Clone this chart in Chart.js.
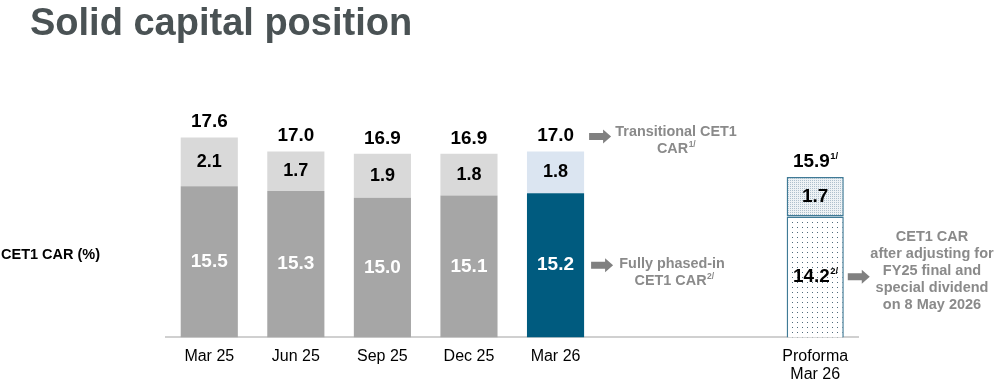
<!DOCTYPE html>
<html>
<head>
<meta charset="utf-8">
<script src="https://cdn.jsdelivr.net/npm/chart.js@4.4.1/dist/chart.umd.min.js"></script>
<style>
  html, body { margin:0; padding:0; background:#ffffff; }
  #wrap { position:relative; width:1000px; height:386px; overflow:hidden; font-family:"Liberation Sans", Arial, sans-serif; }
  #title { position:absolute; left:30px; top:3px; font-size:38px; line-height:1; font-weight:bold; color:#4a5254; white-space:nowrap; }
  #ylab { position:absolute; left:1px; top:246px; font-size:14.5px; line-height:1.2; font-weight:bold; color:#000; white-space:nowrap; }
  #c { position:absolute; left:0; top:0; }
</style>
</head>
<body>
<div id="wrap">
  <canvas id="c" width="1000" height="386"></canvas>
  <div id="title">Solid capital position</div>
  <div id="ylab">CET1 CAR (%)</div>
</div>
<script>
// ---- data ----
const categories = ['Mar 25', 'Jun 25', 'Sep 25', 'Dec 25', 'Mar 26', '', '', ['Proforma', 'Mar 26']];
const fullyPhasedIn = [15.5, 15.3, 15.0, 15.1, 15.2, null, null, 14.2];
const transitionalAddOn = [2.1, 1.7, 1.9, 1.8, 1.8, null, null, 1.7];
const yMin = 9;
const yMax = 18;

// ---- patterns ----
function makePattern(w, h, bg, dotColor, dots) {
  const c = document.createElement('canvas');
  c.width = w; c.height = h;
  const g = c.getContext('2d');
  g.fillStyle = bg; g.fillRect(0, 0, w, h);
  g.fillStyle = dotColor;
  dots.forEach(d => g.fillRect(d[0], d[1], 1, 1));
  return g.createPattern(c, 'repeat');
}
const sparseDots = makePattern(5, 5, '#ffffff', '#4f6b7c', [[2, 2]]);
const denseDots = makePattern(2, 2, '#eef2f5', '#aebfcc', [[0, 0]]);

const darkColors = ['#a6a6a6', '#a6a6a6', '#a6a6a6', '#a6a6a6', '#005b7f', null, null, sparseDots];
const lightColors = ['#d9d9d9', '#d9d9d9', '#d9d9d9', '#d9d9d9', '#dbe5f1', null, null, denseDots];
const borderW = [0, 0, 0, 0, 0, 0, 0, 1.5];
const FONT = '"Liberation Sans", Arial, sans-serif';

function txt(ctx, s, x, y, size, color, align, sx, bold) {
  ctx.save();
  ctx.font = (bold === false ? '' : 'bold ') + size + 'px ' + FONT;
  ctx.fillStyle = color;
  ctx.textAlign = align || 'center';
  ctx.textBaseline = 'middle';
  ctx.translate(x, y);
  ctx.scale(sx || 1, 1);
  ctx.fillText(s, 0, 0);
  const w = ctx.measureText(s).width * (sx || 1);
  ctx.restore();
  return w;
}
function arrow(ctx, x0, y) {
  ctx.save();
  ctx.fillStyle = '#808080';
  ctx.beginPath();
  ctx.moveTo(x0, y - 3.5);
  ctx.lineTo(x0 + 14, y - 3.5);
  ctx.lineTo(x0 + 14, y - 7);
  ctx.lineTo(x0 + 22, y);
  ctx.lineTo(x0 + 14, y + 7);
  ctx.lineTo(x0 + 14, y + 3.5);
  ctx.lineTo(x0, y + 3.5);
  ctx.closePath();
  ctx.fill();
  ctx.restore();
}
// text with superscript, centered as a whole
function supText(ctx, main, sup, cx, y, size, supSize, color, sx) {
  ctx.save();
  ctx.font = 'bold ' + size + 'px ' + FONT;
  const w1 = ctx.measureText(main).width * sx;
  ctx.font = 'bold ' + supSize + 'px ' + FONT;
  const w2 = ctx.measureText(sup).width * sx;
  ctx.restore();
  const left = cx - (w1 + w2) / 2;
  txt(ctx, main, left, y, size, color, 'left', sx);
  txt(ctx, sup, left + w1 + 0.5, y - size * 0.3, supSize, color, 'left', sx);
}

const labelPlugin = {
  id: 'labels',
  afterDatasetsDraw(chart) {
    const ctx = chart.ctx;
    const area = chart.chartArea;
    const m0 = chart.getDatasetMeta(0), m1 = chart.getDatasetMeta(1);
    const gray = '#8a8a8a';
    for (let i = 0; i < categories.length; i++) {
      if (fullyPhasedIn[i] == null) continue;
      const b0 = m0.data[i], b1 = m1.data[i];
      const x = b0.x;
      const bottom = Math.min(b0.base, area.bottom);
      const darkMid = (b0.y + bottom) / 2;
      const lightMid = (b1.y + b1.base) / 2;
      const total = (fullyPhasedIn[i] + transitionalAddOn[i]).toFixed(1);
      const topY = b1.y - 15;
      if (i === 7) {
        supText(ctx, fullyPhasedIn[i].toFixed(1), '2/', x, darkMid, 18, 9, '#000', 1.05);
        txt(ctx, transitionalAddOn[i].toFixed(1), x, lightMid, 18, '#000', 'center', 1.05);
        supText(ctx, total, '1/', x, topY, 18, 9, '#000', 1.05);
        const right = x + b0.width / 2;
        arrow(ctx, right + 4, darkMid);
        const cx = 932, lines = ['CET1 CAR', 'after adjusting for', 'FY25 final and', 'special dividend', 'on 8 May 2026'];
        const mid = darkMid - 6;
        lines.forEach((l, k) => txt(ctx, l, cx, mid + (k - 2) * 17, 14.5, gray, 'center', 1));
      } else {
        txt(ctx, fullyPhasedIn[i].toFixed(1), x, darkMid, 19, '#ffffff', 'center', 1.0);
        txt(ctx, transitionalAddOn[i].toFixed(1), x, lightMid, 18, '#000', 'center', 1.0);
        txt(ctx, total, x, topY, 18, '#000', 'center', 1.05);
        if (i === 4) {
          const right = x + b0.width / 2;
          arrow(ctx, right + 5, topY);
          txt(ctx, 'Transitional CET1', right + 92, topY - 4, 14.4, gray, 'center', 1);
          supText(ctx, 'CAR', '1/', right + 92, topY + 13, 14.4, 8.5, gray, 1);
          arrow(ctx, right + 7, darkMid);
          txt(ctx, 'Fully phased-in', right + 88, darkMid - 1.5, 14.4, gray, 'center', 1);
          supText(ctx, 'CET1 CAR', '2/', right + 90, darkMid + 16, 14.4, 8.5, gray, 1);
        }
      }
    }
  }
};

new Chart(document.getElementById('c'), {
  type: 'bar',
  data: {
    labels: categories,
    datasets: [
      { label: 'Fully phased-in CET1 CAR', data: fullyPhasedIn, backgroundColor: darkColors,
        borderColor: '#3f7a96', borderWidth: borderW, borderSkipped: false },
      { label: 'Transitional CET1 CAR add-on', data: transitionalAddOn, backgroundColor: lightColors,
        borderColor: '#3f7a96', borderWidth: borderW, borderSkipped: false }
    ]
  },
  options: {
    responsive: false,
    animation: false,
    events: [],
    layout: { padding: { left: 166, right: 141.5, top: 128.2, bottom: 0 } },
    datasets: { bar: { barPercentage: 0.66, categoryPercentage: 1.0 } },
    plugins: { legend: { display: false }, tooltip: { enabled: false }, title: { display: false } },
    scales: {
      x: {
        stacked: true,
        grid: { display: true, drawOnChartArea: false, drawTicks: false, color: 'rgba(0,0,0,0)' },
        border: { display: true, color: '#d0d0d0', width: 2 },
        ticks: { color: '#000', font: { family: FONT, size: 16, lineHeight: 1.15 }, padding: 10, maxRotation: 0, autoSkip: false },
        afterFit(scale) { scale.height = 48.8; }
      },
      y: {
        stacked: true, display: false, min: yMin, max: yMax
      }
    }
  },
  plugins: [labelPlugin]
});
</script>
</body>
</html>
